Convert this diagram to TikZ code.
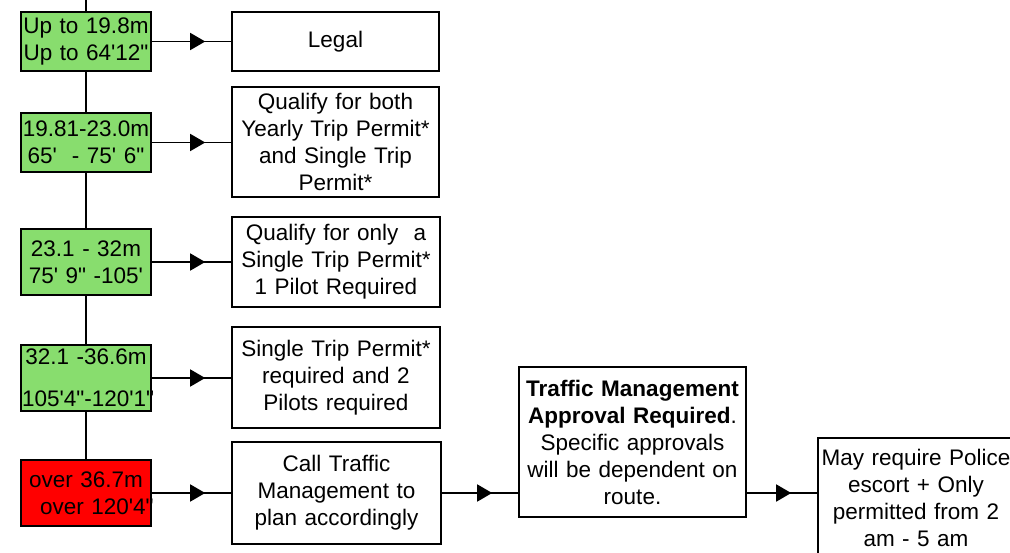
\documentclass[tikz,border=0pt]{standalone}
\usepackage{fontspec}
\newfontfamily\arialfont{Liberation Sans}
\usetikzlibrary{arrows.meta,decorations.markings,positioning,shapes}
\definecolor{rangegreen}{RGB}{136,221,110}

\begin{document}
\begin{tikzpicture}[x = 1pt, y = -1pt,
  font = \arialfont\fontsize{22.5}{27}\selectfont,
  rangebox/.style = {draw = black, line width = 1.6pt, fill = rangegreen, minimum width = 130pt, text width = 128pt, inner xsep = 1pt, inner ysep = 0pt, align = center},
  rulebox/.style = {draw = black, line width = 1.6pt, fill = white, inner xsep = 2pt, inner ysep = 0pt, align = center},
  flow/.style = {line width = 1.6pt, postaction = {decorate}, decoration = {markings, mark = at position -26pt with {\arrow{Triangle[length = 15pt, width = 17pt]}}}}]
\useasboundingbox (0,0) rectangle (1010,552);
\clip (0,0) rectangle (1010,552);
\coordinate (top) at (86,0);
\node[rangebox, minimum height = 59pt] (g1) at (86,41.5) {\mbox{Up to 19.8m}\\\mbox{Up to 64'12"}};
\node[rangebox, minimum height = 59pt] (g2) at (86,142.5) {\mbox{19.81-23.0m}\\\mbox{65'\ \ - 75' 6"}};
\node[rangebox, minimum height = 66pt] (g3) at (86,262) {\mbox{23.1 - 32m}\\\mbox{75' 9" -105'}};
\node[rangebox, minimum height = 66pt] (g4) at (86,378) {\mbox{32.1 -36.6m}\\[15pt]\mbox{105'4"-120'1"}};
\node[rangebox, fill = red, minimum height = 66pt] (r5) at (86,493) {\mbox{over 36.7m}\\\mbox{\hspace{0.8em}over 120'4"}};
\node[rulebox, minimum width = 207pt, text width = 203pt, minimum height = 59pt] (b1) at (335.5,41.5) {Legal};
\node[rulebox, minimum width = 207pt, text width = 203pt, minimum height = 110pt] (b2) at (335.5,142) {Qualify for both\\Yearly Trip Permit*\\and Single Trip\\Permit*};
\node[rulebox, minimum width = 208pt, text width = 204pt, minimum height = 90pt] (b3) at (336,262) {Qualify for only\ \ a\\Single Trip Permit*\\1 Pilot Required};
\node[rulebox, minimum width = 208pt, text width = 204pt, minimum height = 101pt] (b4) at (336,377.5) {Single Trip Permit*\\required and 2\\Pilots required};
\node[rulebox, minimum width = 209pt, text width = 205pt, minimum height = 102pt] (b5) at (336.5,493) {Call Traffic\\Management to\\plan accordingly};
\node[rulebox, minimum width = 227pt, text width = 223pt, minimum height = 150pt] (b6) at (632.5,442) {{\bfseries Traffic Management}\\{\bfseries Approval Required}.\\Specific approvals\\will be dependent on\\route.};
\node[rulebox, minimum width = 196pt, text width = 192pt, minimum height = 120pt] (b7) at (916,498) {May require Police\\escort + Only\\permitted from 2\\am - 5 am};
% spine through the ranges
\draw[line width = 1.6pt] (top) -- (g1);
\draw[line width = 1.6pt] (g1) -- (g2);
\draw[line width = 1.6pt] (g2) -- (g3);
\draw[line width = 1.6pt] (g3) -- (g4);
\draw[line width = 1.6pt] (g4) -- (r5);
% outcomes
\draw[flow] (g1.east) -- (g1.east -| b1.west);
\draw[flow] (g2.east) -- (g2.east -| b2.west);
\draw[flow] (g3.east) -- (g3.east -| b3.west);
\draw[flow] (g4.east) -- (g4.east -| b4.west);
\draw[flow] (r5.east) -- (r5.east -| b5.west);
\draw[flow] (b5.east) -- (b5.east -| b6.west);
\draw[flow] (b5.east -| b6.east) -- (b5.east -| b7.west);
\end{tikzpicture}
\end{document}
